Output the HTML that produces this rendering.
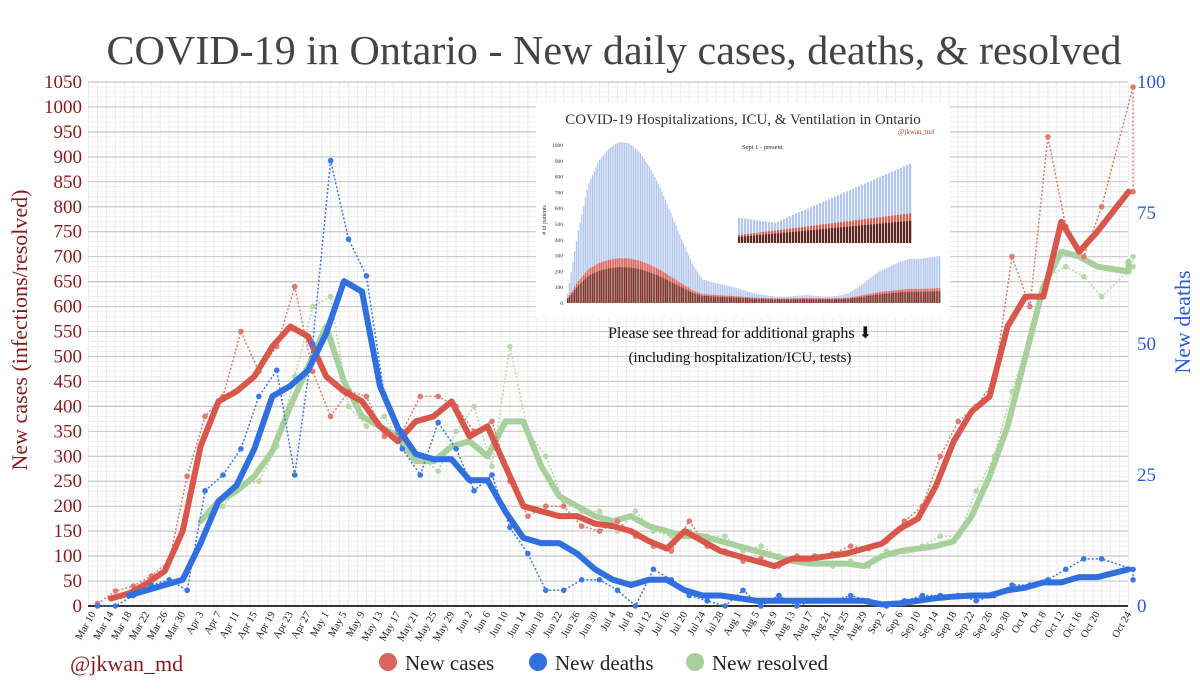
<!DOCTYPE html>
<html><head><meta charset="utf-8"><style>
body{margin:0;background:#fff;width:1200px;height:693px;overflow:hidden}
svg{display:block}
</style></head><body>
<svg id="chart" width="1200" height="693" viewBox="0 0 1200 693" xmlns="http://www.w3.org/2000/svg" font-family="'Liberation Serif', serif">
<rect width="1200" height="693" fill="#fff"/>
<text x="614" y="64" text-anchor="middle" font-size="41" fill="#444" textLength="1015" lengthAdjust="spacingAndGlyphs">COVID-19 in Ontario - New daily cases, deaths, &amp; resolved</text>
<g id="grid"></g>
<g id="yl"></g><g id="yr"></g><g id="xl"></g>
<g id="series"></g>
<text transform="translate(27,330) rotate(-90)" text-anchor="middle" font-size="22" fill="#8b1a1a">New cases (infections/resolved)</text>
<text transform="translate(1190,322) rotate(-90)" text-anchor="middle" font-size="22" fill="#2a5bd7">New deaths</text>
<g id="inset"></g>
<text x="740" y="338" text-anchor="middle" font-size="16" fill="#111">Please see thread for additional graphs ⬇</text>
<text x="740" y="362" text-anchor="middle" font-size="15" fill="#111">(including hospitalization/ICU, tests)</text>
<text x="70" y="671" font-size="22" fill="#8b1a1a">@jkwan_md</text>
<g font-size="21" fill="#222">
<circle cx="388" cy="662" r="9" fill="#d9655c"/><text x="405" y="670">New cases</text>
<circle cx="538" cy="662" r="9" fill="#2f6fe0"/><text x="555" y="670">New deaths</text>
<circle cx="695" cy="662" r="9" fill="#a8d09c"/><text x="712" y="670">New resolved</text>
</g>
</svg>
<script>
const dateLabels=["Mar 10","Mar 14","Mar 18","Mar 22","Mar 26","Mar 30","Apr 3","Apr 7","Apr 11","Apr 15","Apr 19","Apr 23","Apr 27","May 1","May 5","May 9","May 13","May 17","May 21","May 25","May 29","Jun 2","Jun 6","Jun 10","Jun 14","Jun 18","Jun 22","Jun 26","Jun 30","Jul 4","Jul 8","Jul 12","Jul 16","Jul 20","Jul 24","Jul 28","Aug 1","Aug 5","Aug 9","Aug 13","Aug 17","Aug 21","Aug 25","Aug 29","Sep 2","Sep 6","Sep 10","Sep 14","Sep 18","Sep 22","Sep 26","Sep 30","Oct 4","Oct 8","Oct 12","Oct 16","Oct 20","Oct 24","Oct 27"];
const casesAvg=[null,15,25,45,70,150,320,410,430,460,520,560,540,460,430,410,360,330,370,380,410,340,360,280,200,190,180,180,165,160,150,130,115,150,130,110,100,90,80,95,95,100,105,115,125,155,175,240,330,390,420,560,620,620,770,710,750,830,830];
const casesRaw=[5,30,40,60,90,260,380,420,550,470,520,640,470,380,430,420,340,350,420,420,400,350,370,250,180,200,200,160,150,170,140,120,110,170,120,110,90,95,80,100,100,105,120,115,130,170,200,300,370,400,450,700,600,940,760,700,800,1040,830];
const deathsAvg=[null,null,2,3,4,5,12,20,23,30,40,42,45,52,62,60,42,34,29,28,28,24,24,18,13,12,12,10,7,5,4,5,5,3,2,2,1.5,1,1,1,1,1,1,1,0.3,0.5,1,1.5,1.8,2,2,3,3.5,4.5,4.5,5.5,5.5,7,7];
const deathsRaw=[0,0,2,4,5,3,22,25,30,40,45,25,50,85,70,63,40,30,25,35,30,22,25,15,10,3,3,5,5,3,0,7,5,2,1,0,3,0,2,0,1,1,2,1,0,1,2,2,2,1,2,4,4,5,7,9,9,7,5];
const resolvedAvg=[null,null,null,null,null,null,170,210,230,260,310,400,480,560,450,380,360,340,290,290,320,330,300,370,370,280,220,200,180,170,180,160,150,140,140,130,120,110,100,90,85,85,85,80,100,110,115,120,130,180,260,360,500,640,710,700,680,670,690];
const resolvedRaw=[null,null,null,null,null,null,180,200,240,250,320,460,600,620,400,360,380,320,300,270,350,400,280,520,350,300,210,190,190,150,190,150,140,150,140,140,110,120,100,90,90,80,90,80,110,110,120,140,140,230,300,430,540,660,680,660,620,680,700];
const hospPatients=[60,450,750,900,980,1020,1010,950,850,720,560,400,250,150,130,115,100,80,60,50,40,40,45,50,45,40,45,60,100,150,200,230,260,280,280,290,300];
const dayOffsets=dateLabels.map((d,i)=>i<57?i*4:231);
const leftTicks=[0,50,100,150,200,250,300,350,400,450,500,550,600,650,700,750,800,850,900,950,1000,1050];
const rightTicks=[0,25,50,75,100];
const X0=93,PXD=4.483,Y0=606,YTOP=82,XR=1128;
const xs=d=>X0+d*PXD;
const yL=v=>Y0-(v/1050)*(Y0-YTOP);
const yR=v=>Y0-(v/100)*(Y0-YTOP);
const NS="http://www.w3.org/2000/svg";
function mk(tag,attrs,parent){const e=document.createElementNS(NS,tag);for(const k in attrs)e.setAttribute(k,attrs[k]);parent.appendChild(e);return e;}
const grid=document.getElementById('grid');
for(let d=-1;d<=232;d+=2){const l=mk('line',{x1:xs(d),x2:xs(d),y1:YTOP,y2:Y0,stroke:'#ececec','stroke-width':1},grid);

}
for(let v=0;v<=1050;v+=10){const l=mk('line',{x1:88,x2:XR,y1:yL(v),y2:yL(v),stroke:v%50==0?'#c8c8c8':'#eeeeee','stroke-width':v%50==0?1.2:1},grid);

}
const ax=mk('line',{x1:88,x2:XR,y1:Y0,y2:Y0,stroke:'#333','stroke-width':2},grid);


const yl=document.getElementById('yl');
leftTicks.forEach(v=>{const t=mk('text',{x:82,y:yL(v)+6,'text-anchor':'end','font-size':19,fill:'#8b1a1a'},yl);t.textContent=v;

});
const yr=document.getElementById('yr');
rightTicks.forEach(v=>{const t=mk('text',{x:1137,y:yR(v)+6,'font-size':19,fill:'#2a5bd7'},yr);t.textContent=v;

});
const xl=document.getElementById('xl');
dateLabels.forEach((lab,i)=>{if(i>57)return;const x=xs(dayOffsets[i]);const t=mk('text',{transform:`translate(${x+3},${Y0+8}) rotate(-60)`,'text-anchor':'end','font-size':10.5,fill:'#222'},xl);t.textContent=lab;

});
const S=document.getElementById('series');
function series(raw,avg,yf,col,dcol,name){
  let pr='';raw.forEach((v,i)=>{if(v==null)return;pr+=(pr?'L':'M')+xs(dayOffsets[i]+1)+','+yf(v);});
  const p1=mk('path',{d:pr,fill:'none',stroke:dcol,'stroke-width':1.5,'stroke-dasharray':'2,2'},S);
  
  
  raw.forEach((v,i)=>{if(v==null)return;const c=mk('circle',{cx:xs(dayOffsets[i]+1),cy:yf(v),r:2.8,fill:dcol},S);
  
  });
  let pa='';avg.forEach((v,i)=>{if(v==null)return;pa+=(pa?'L':'M')+xs(dayOffsets[i])+','+yf(v);});
  const p2=mk('path',{d:pa,fill:'none',stroke:col,'stroke-width':6,'stroke-linejoin':'round','stroke-linecap':'round'},S);
  
  
}
series(resolvedRaw,resolvedAvg,yL,'#a8d09c','#b5d9a8','resolved');
series(casesRaw,casesAvg,yL,'#d9574a','#e07a70','cases');
series(deathsRaw,deathsAvg,yR,'#2f6fe0','#3a78e6','deaths');
// inset
const ins=document.getElementById('inset');
mk('rect',{x:536,y:102,width:414,height:216,fill:'#fff'},ins);
const it=mk('text',{x:743,y:124,'text-anchor':'middle','font-size':15,fill:'#333'},ins);it.textContent='COVID-19 Hospitalizations, ICU, & Ventilation in Ontario';
const ih=mk('text',{x:934,y:134,'text-anchor':'end','font-size':7,fill:'#c0392b'},ins);ih.textContent='@jkwan_md';
for(let i=0;i<210;i++){const k=i/210*(hospPatients.length-1);const a=hospPatients[Math.floor(k)],b=hospPatients[Math.min(hospPatients.length-1,Math.ceil(k))];const val=a+(b-a)*(k-Math.floor(k));const h=val*0.158;
const x=567+i*1.78;mk('rect',{x:x,y:303-h,width:1.3,height:h,fill:'#b3c6ee'},ins);const ih2=Math.min(h,(val<300?val*0.25:val*0.26)*0.158+3);mk('rect',{x:x,y:303-ih2,width:1.3,height:ih2,fill:'#e06050'},ins);mk('rect',{x:x,y:303-ih2*0.8,width:1.3,height:ih2*0.8,fill:'#7a3a32'},ins);}
[0,100,200,300,400,500,600,700,800,900,1000].forEach(v=>{const t=mk('text',{x:563,y:303-v*0.158+2,'text-anchor':'end','font-size':5.5,fill:'#333'},ins);t.textContent=v;});
const ylab=mk('text',{transform:'translate(546,220) rotate(-90)','text-anchor':'middle','font-size':6,fill:'#333'},ins);ylab.textContent='# of patients';
mk('rect',{x:732,y:141,width:188,height:110,fill:'#fff'},ins);
const st=mk('text',{x:742,y:149,'font-size':6.5,fill:'#222'},ins);st.textContent='Sept 1 - present';
for(let i=0;i<58;i++){const h=24+ (i<12?-i*0.4: (i-12)*1.25-4.8);const x=738+i*3;mk('rect',{x:x,y:243-h*1.05,width:2.2,height:h*1.05,fill:'#b3c6ee'},ins);const r=8+i*0.38;mk('rect',{x:x,y:243-r,width:2.2,height:r,fill:'#e06050'},ins);mk('rect',{x:x,y:243-r*0.75,width:2.2,height:r*0.75,fill:'#5a2a25'},ins);}
</script>
</body></html>
